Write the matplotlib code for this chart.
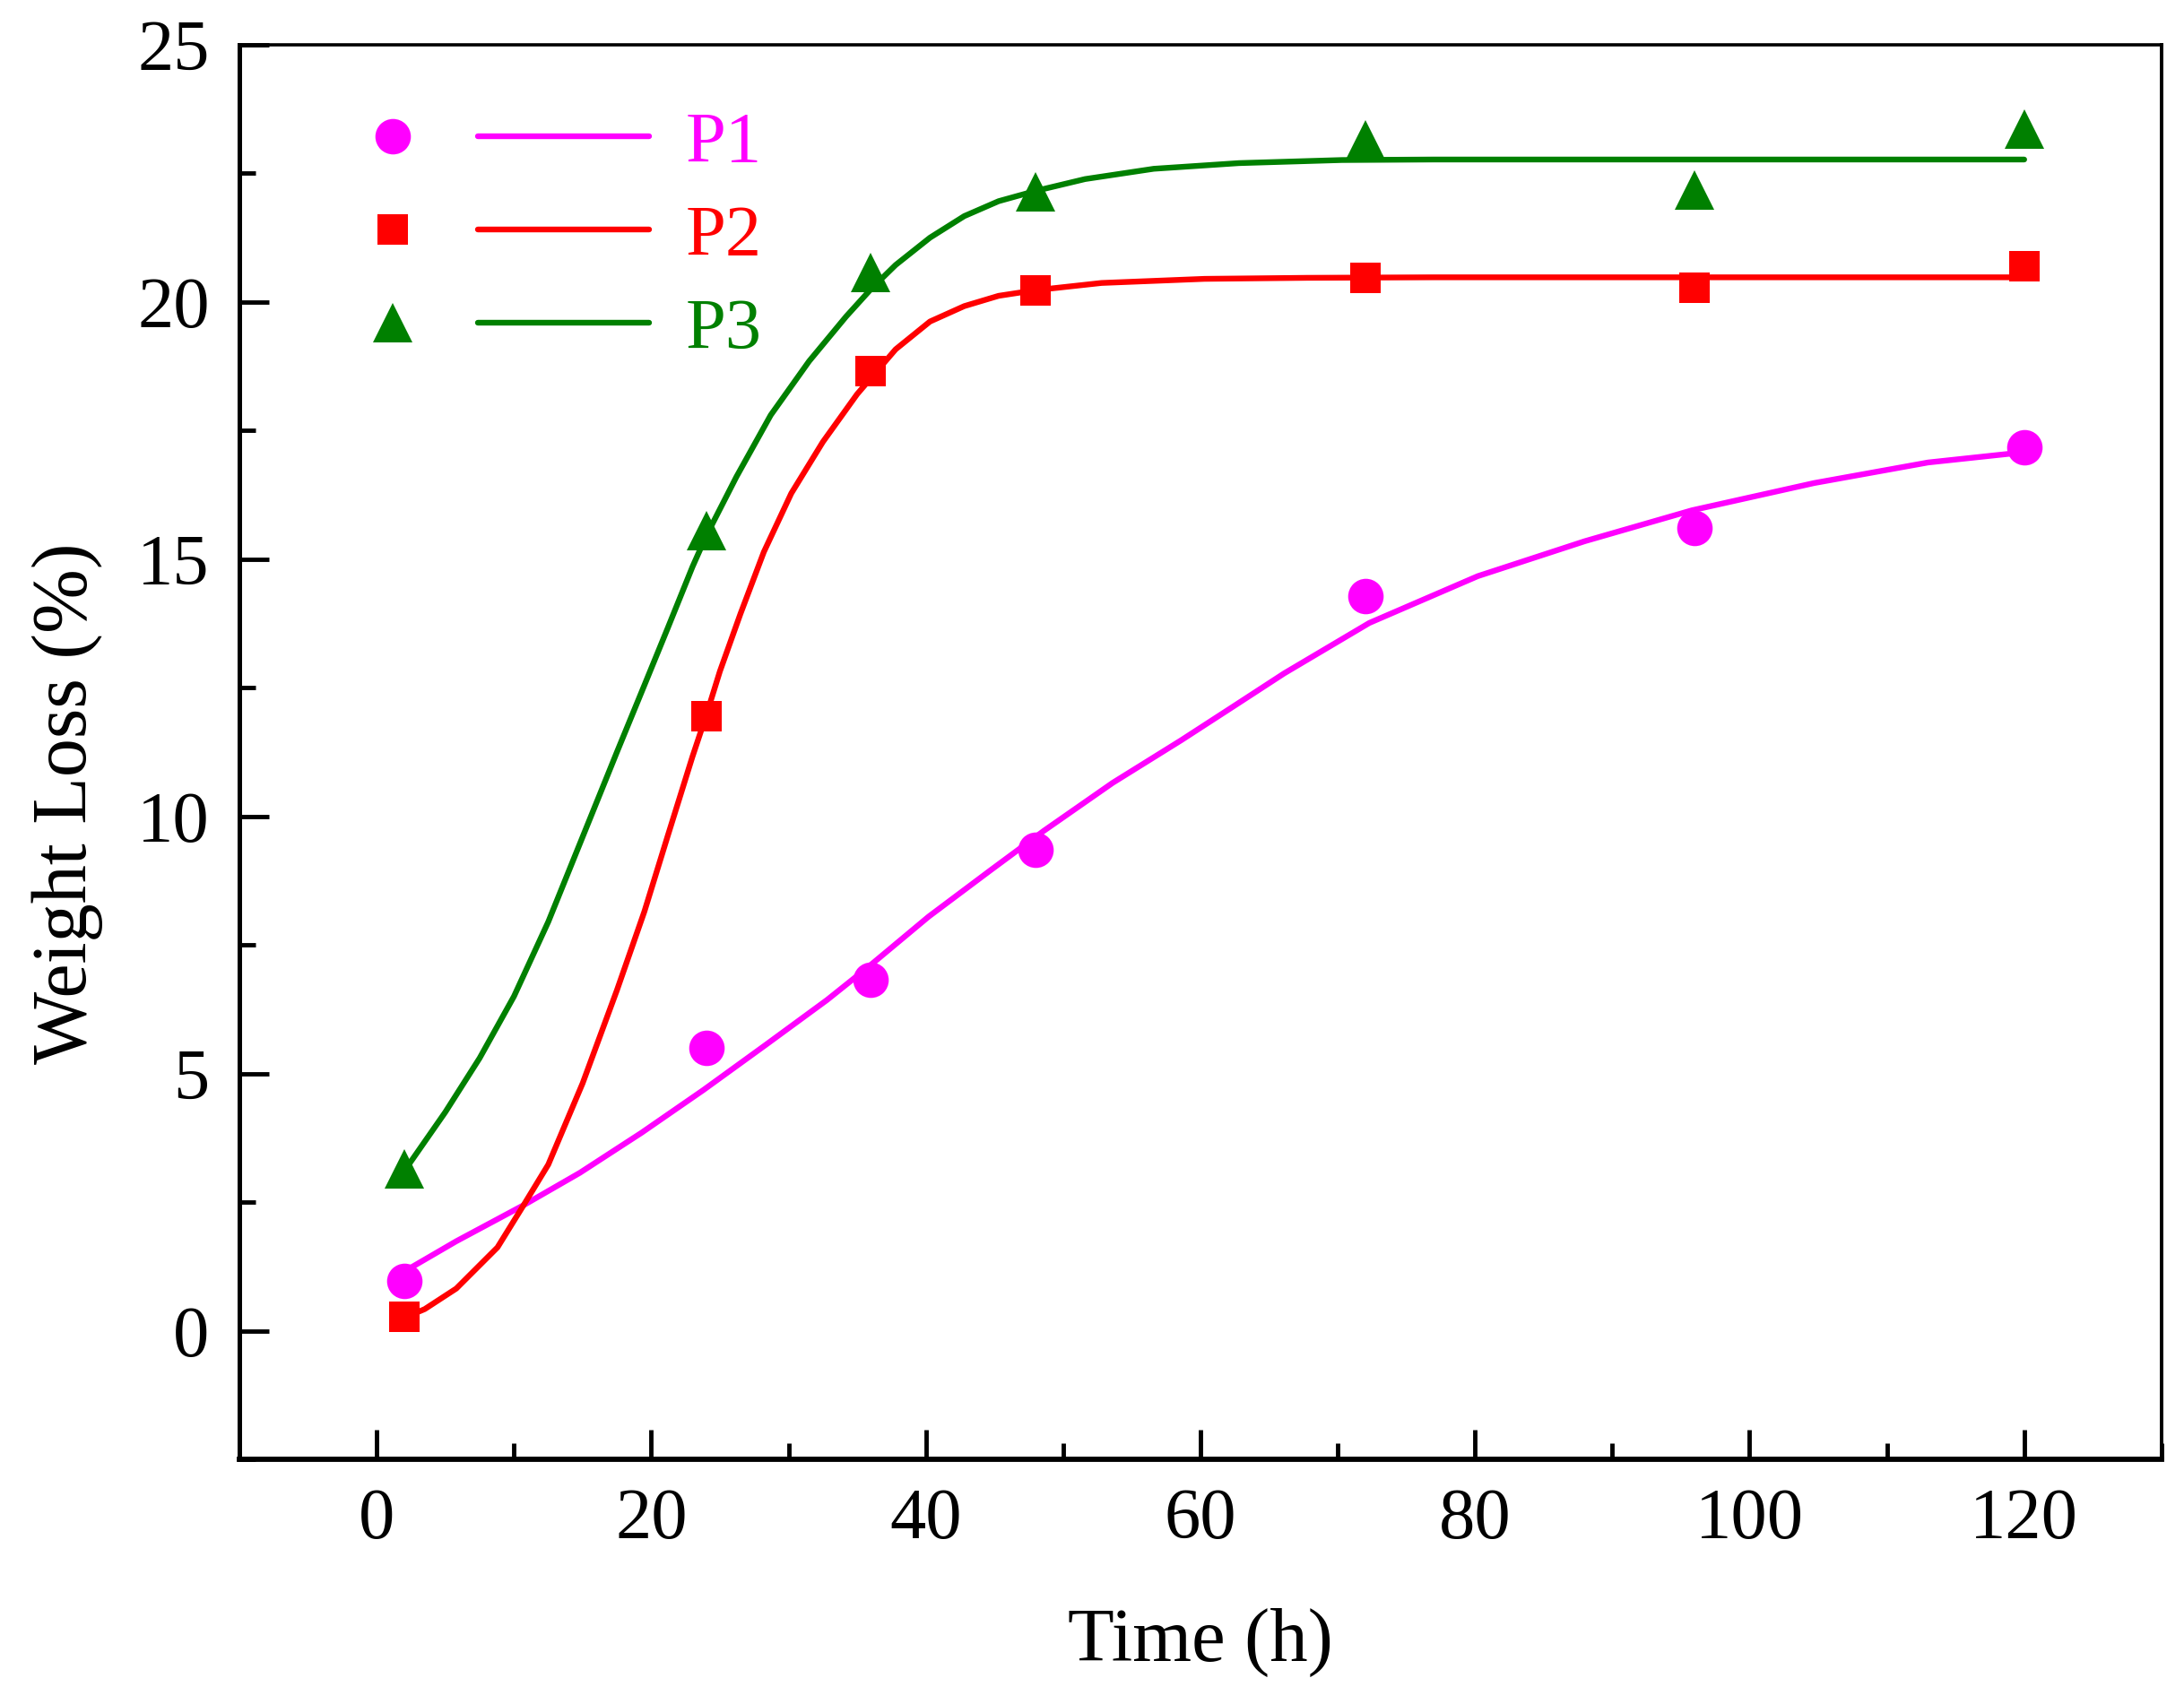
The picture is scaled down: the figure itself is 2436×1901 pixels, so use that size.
import matplotlib
matplotlib.use("Agg")
import matplotlib.pyplot as plt
from matplotlib.lines import Line2D
from matplotlib.legend_handler import HandlerTuple
from matplotlib.ticker import MultipleLocator

plt.rcParams['font.family'] = ['Liberation Serif', 'DejaVu Serif']

# ---- measured data ----
time_h = [2, 24, 36, 48, 72, 96, 120]
p1_loss = [0.96, 5.50, 6.82, 9.35, 14.29, 15.61, 17.18]
p2_loss = [0.27, 11.95, 18.66, 20.22, 20.47, 20.27, 20.69]
p3_loss = [3.15, 15.55, 20.58, 22.14, 23.16, 22.17, 23.37]

# ---- fitted curves ----
p1_fit_x = [2, 5.8, 10.7, 14.8, 19.3, 23.8, 28.3, 32.8, 35.8, 40.2, 44.7, 48.6,
            53.6, 58.6, 62.3, 66.1, 72.3, 80.2, 88, 95.8, 104.7, 113, 120]
p1_fit_y = [1.15, 1.74, 2.44, 3.07, 3.85, 4.68, 5.55, 6.43, 7.07, 8.05, 8.95, 9.72,
            10.65, 11.48, 12.12, 12.78, 13.76, 14.67, 15.35, 15.95, 16.48, 16.88, 17.08]

p2_fit_x = [2, 3.5, 5.8, 8.8, 10.7, 12.5, 15, 17.5, 19.5, 21.2, 23, 24, 25, 26.5,
            28.2, 30.2, 32.5, 35, 37.8, 40.3, 42.8, 45.3, 48, 52.8, 60.3, 67.8, 77, 120]
p2_fit_y = [0.25, 0.42, 0.82, 1.62, 2.44, 3.23, 4.81, 6.62, 8.15, 9.62, 11.16, 11.96,
            12.82, 13.94, 15.14, 16.28, 17.28, 18.21, 19.08, 19.62, 19.92, 20.12,
            20.23, 20.37, 20.45, 20.47, 20.48, 20.48]

p3_fit_x = [2, 5, 7.5, 10, 12.5, 15, 17.5, 19.5, 21.2, 23, 24, 26.2, 28.7, 31.5,
            34.2, 36, 37.8, 40.3, 42.8, 45.3, 48, 51.6, 56.6, 62.8, 70.3, 77, 120]
p3_fit_y = [3.1, 4.25, 5.3, 6.5, 7.95, 9.6, 11.25, 12.55, 13.66, 14.85, 15.45,
            16.6, 17.8, 18.85, 19.72, 20.25, 20.72, 21.25, 21.67, 21.96, 22.16,
            22.39, 22.59, 22.70, 22.76, 22.77, 22.77]

labels = ['P1', 'P2', 'P3']
colors = ['#FF00FF', '#FF0000', '#008000']
markers = ['o', 's', '^']
marker_sizes = [28.5, 25, 32]

x_ticks = [0, 20, 40, 60, 80, 100, 120]
y_ticks = [0, 5, 10, 15, 20, 25]

fig = plt.figure(figsize=(24.36, 19.01), dpi=100)
ax = fig.add_axes([0.1096, 0.1436, 0.8801, 0.8301])

series = [(p1_loss, p1_fit_x, p1_fit_y), (p2_loss, p2_fit_x, p2_fit_y), (p3_loss, p3_fit_x, p3_fit_y)]
handles = []
for (pts, fx, fy), c, m, ms, lab in zip(series, colors, markers, marker_sizes, labels):
    ax.plot(fx, fy, '-', color=c, lw=4.6, zorder=2, solid_capstyle='round',
            solid_joinstyle='round')
    ax.plot(time_h, pts, linestyle='none', marker=m, ms=ms, color=c, mew=0, zorder=3)
    hm = Line2D([], [], linestyle='none', marker=m, ms=ms, color=c, mew=0)
    hl = Line2D([], [], linestyle='-', color=c, lw=4.6, solid_capstyle='round')
    handles.append((hm, hl))

ax.set_xlim(-10, 130)
ax.set_ylim(-2.5, 25)
ax.set_xticks(x_ticks)
ax.set_yticks(y_ticks)
ax.xaxis.set_minor_locator(MultipleLocator(10))
ax.yaxis.set_minor_locator(MultipleLocator(2.5))

ax.tick_params(axis='both', which='both', direction='in', top=False, right=False,
               labelsize=58, width=3.5)
ax.tick_params(axis='both', which='major', length=24)
ax.tick_params(axis='both', which='minor', length=13)
ax.tick_params(axis='x', which='major', pad=23)
ax.tick_params(axis='y', which='major', pad=24)

ax.spines['bottom'].set_linewidth(4.2)
ax.spines['left'].set_linewidth(3.6)
ax.spines['top'].set_linewidth(2.6)
ax.spines['right'].set_linewidth(2.8)

ax.set_xlabel('Time (h)', fontsize=61)
ax.set_ylabel('Weight Loss (%)', fontsize=62)
ax.xaxis.set_label_coords(0.5, -0.105)
ax.yaxis.set_label_coords(-0.071, 0.464)

fs_leg = 58
px_per_em = fs_leg * 100 / 72
leg = ax.legend(handles, labels, handler_map={tuple: HandlerTuple(ndivide=None, pad=0)},
                loc='upper left', bbox_to_anchor=(0.0352, 0.953), frameon=False,
                fontsize=fs_leg, handlelength=382 / px_per_em,
                handletextpad=40 / px_per_em, labelspacing=0.38,
                borderpad=0, borderaxespad=0)
for t, c in zip(leg.get_texts(), colors):
    t.set_color(c)

fig.savefig('out.png', dpi=100)
